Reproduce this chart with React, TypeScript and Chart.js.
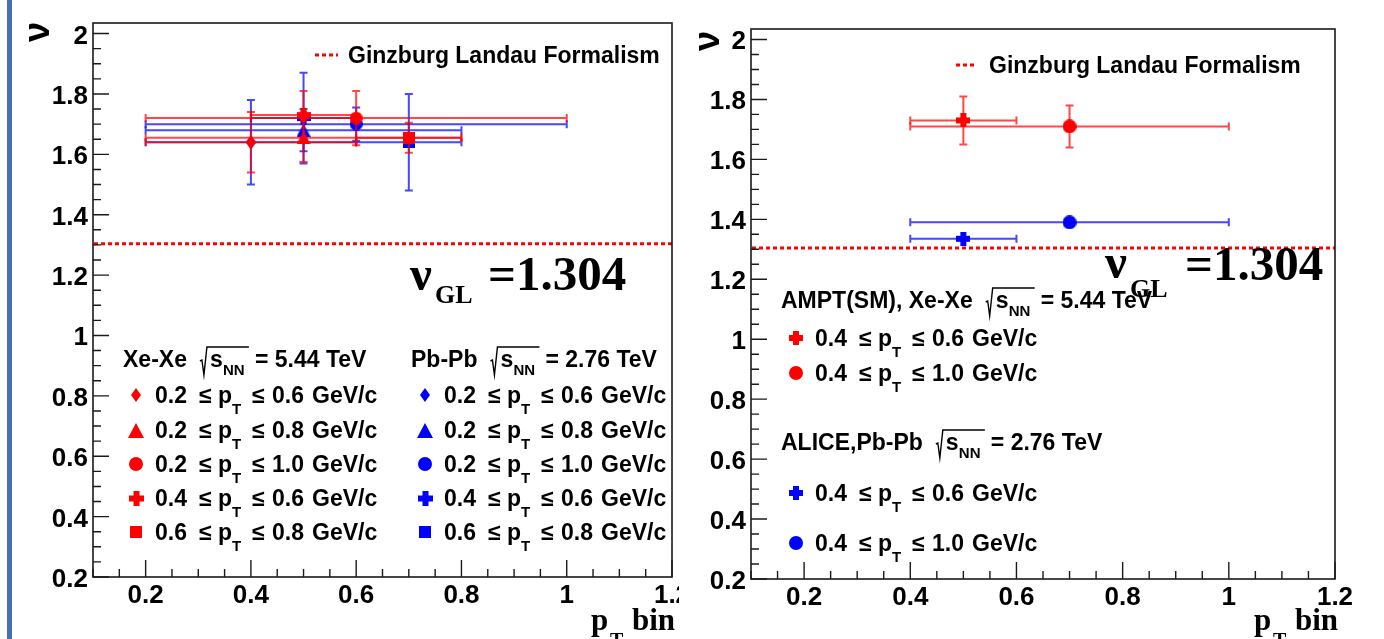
import React, { useEffect, useRef } from 'react';
import { Chart, registerables } from 'chart.js';

Chart.register(...registerables);

// ---------------- data ----------------
const X_RANGE = [0.1, 1.2];
const Y_RANGE = [0.2, 2.035];
const X_TICKS = [0.2, 0.4, 0.6, 0.8, 1.0, 1.2];
const X_TICK_LABELS = ['0.2', '0.4', '0.6', '0.8', '1', '1.2'];
const Y_TICKS = [0.2, 0.4, 0.6, 0.8, 1.0, 1.2, 1.4, 1.6, 1.8, 2.0];
const Y_TICK_LABELS = ['0.2', '0.4', '0.6', '0.8', '1', '1.2', '1.4', '1.6', '1.8', '2'];
const NU_GL = 1.304;
const GL_LEGEND = 'Ginzburg Landau Formalism';
const Y_TITLE = 'ν';
const X_TITLE_MAIN = 'p';
const X_TITLE_SUB = 'T';
const X_TITLE_TAIL = 'bin';

// left panel
const XE_TITLE = 'Xe-Xe';
const XE_ENERGY = '5.44';
const PB_TITLE = 'Pb-Pb';
const PB_ENERGY = '2.76';
const leftBinLo = [0.2, 0.2, 0.2, 0.4, 0.6];
const leftBinHi = [0.6, 0.8, 1.0, 0.6, 0.8];
const leftX = [0.4, 0.5, 0.6, 0.5, 0.7];
const xeNu = [1.64, 1.655, 1.72, 1.73, 1.655];
const xeNuErr = [0.10, 0.08, 0.09, 0.08, 0.05];
const pbNu = [1.64, 1.68, 1.70, 1.72, 1.64];
const pbNuErr = [0.14, 0.07, 0.055, 0.15, 0.16];

// right panel
const AMPT_TITLE = 'AMPT(SM), Xe-Xe';
const AMPT_ENERGY = '5.44';
const ALICE_TITLE = 'ALICE,Pb-Pb';
const ALICE_ENERGY = '2.76';
const rightBinLo = [0.4, 0.4];
const rightBinHi = [0.6, 1.0];
const rightX = [0.5, 0.7];
const amptNu = [1.73, 1.71];
const amptNuErr = [0.08, 0.07];
const aliceNu = [1.335, 1.39];
const aliceNuErr = [0, 0];

// ---------------- styles ----------------
const RED = '#ff0000';
const BLUE = '#0000ff';
const RED_LINE = 'rgba(255,0,0,0.72)';
const BLUE_LINE = 'rgba(0,0,255,0.72)';
const SANS = '"Liberation Sans", Arial, Helvetica, sans-serif';
const SERIF = '"Liberation Serif", "Times New Roman", Times, serif';
const leftShapes = ['diamond', 'triangle', 'circle', 'cross', 'square'];
const rightShapes = ['cross', 'circle'];
const SIZES: Record<string, [number, number]> = {
  diamond: [10, 14],
  triangle: [14, 13],
  circle: [13, 13],
  cross: [14, 14],
  square: [12, 12],
};
const RIGHT_SIZES: Record<string, [number, number]> = { cross: [14, 14], circle: [14, 14] };

function makeMarker(shape: string, color: string, w: number, h: number): HTMLCanvasElement {
  const c = document.createElement('canvas');
  c.width = w;
  c.height = h;
  const g = c.getContext('2d')!;
  g.fillStyle = color;
  g.beginPath();
  if (shape === 'circle') {
    g.ellipse(w / 2, h / 2, w / 2, h / 2, 0, 0, Math.PI * 2);
    g.fill();
  } else if (shape === 'square') {
    g.fillRect(0, 0, w, h);
  } else if (shape === 'triangle') {
    g.moveTo(w / 2, 0);
    g.lineTo(w, h);
    g.lineTo(0, h);
    g.closePath();
    g.fill();
  } else if (shape === 'diamond') {
    g.moveTo(w / 2, 0);
    g.lineTo(w, h / 2);
    g.lineTo(w / 2, h);
    g.lineTo(0, h / 2);
    g.closePath();
    g.fill();
  } else if (shape === 'cross') {
    const t = Math.round(w * 0.4);
    g.fillRect((w - t) / 2, 0, t, h);
    g.fillRect(0, (h - t) / 2, w, t);
  }
  return c;
}

function buildSeries(
  xs: number[], ys: number[], errs: number[], lo: number[], hi: number[],
  markers: HTMLCanvasElement[], lineColor: string,
) {
  return xs.map((x, i) => ({
    data: [{ x, y: ys[i] }],
    pointStyle: markers[i],
    pointRadius: 6,
    showLine: false,
    err: { lo: lo[i], hi: hi[i], dy: errs[i] },
    lineColor,
  }));
}

// ---------------- drawing helpers ----------------
function txt(ctx: CanvasRenderingContext2D, s: string, x: number, y: number, size: number,
  opt: { serif?: boolean; align?: CanvasTextAlign; color?: string } = {}) {
  ctx.font = `bold ${size}px ${opt.serif ? SERIF : SANS}`;
  ctx.textAlign = opt.align || 'left';
  ctx.textBaseline = 'alphabetic';
  ctx.fillStyle = opt.color || '#000';
  ctx.fillText(s, x, y);
}

function drawSqrtSNN(ctx: CanvasRenderingContext2D, x: number, base: number) {
  ctx.save();
  ctx.strokeStyle = '#000';
  ctx.lineWidth = 1.4;
  ctx.beginPath();
  ctx.moveTo(x, base - 6);
  ctx.lineTo(x + 2, base - 7);
  ctx.lineTo(x + 4, base + 8);
  ctx.lineTo(x + 7, base - 20);
  ctx.lineTo(x + 49, base - 20);
  ctx.stroke();
  ctx.restore();
  txt(ctx, 's', x + 10, base, 23);
  txt(ctx, 'NN', x + 23, base + 8, 15);
}

function drawHeader(ctx: CanvasRenderingContext2D, x: number, base: number, title: string, energy: string) {
  txt(ctx, title, x, base, 23);
  const w = ctx.measureText(title).width;
  const r = x + w + 13;
  drawSqrtSNN(ctx, r, base);
  txt(ctx, '= ' + energy + ' TeV', r + 55, base, 23);
}

function drawRange(ctx: CanvasRenderingContext2D, x: number, base: number, lo: number, hi: number) {
  txt(ctx, lo.toFixed(1), x, base, 23);
  txt(ctx, '≤', x + 44, base, 23);
  txt(ctx, 'p', x + 63, base, 23);
  txt(ctx, 'T', x + 77, base + 11, 15);
  txt(ctx, '≤', x + 97, base, 23);
  txt(ctx, hi.toFixed(1), x + 117, base, 23);
  txt(ctx, 'GeV/c', x + 157, base, 23);
}

function drawMarkerAt(ctx: CanvasRenderingContext2D, m: HTMLCanvasElement, x: number, y: number) {
  ctx.drawImage(m, Math.round(x - m.width / 2), Math.round(y - m.height / 2));
}

function drawGLLegend(ctx: CanvasRenderingContext2D, x0: number, x1: number, ly: number, tx: number, tb: number) {
  ctx.save();
  ctx.strokeStyle = RED;
  ctx.lineWidth = 3;
  ctx.setLineDash([4, 3]);
  ctx.beginPath();
  ctx.moveTo(x0, ly);
  ctx.lineTo(x1, ly);
  ctx.stroke();
  ctx.restore();
  txt(ctx, GL_LEGEND, tx, tb, 23);
}

function drawNuGL(ctx: CanvasRenderingContext2D, nx: number, nb: number, gx: number, gb: number, vx: number, vb: number) {
  txt(ctx, 'ν', nx, nb, 49, { serif: true });
  txt(ctx, 'GL', gx, gb, 26, { serif: true });
  txt(ctx, '=' + NU_GL.toFixed(3), vx, vb, 49, { serif: true });
}

function drawYTitle(ctx: CanvasRenderingContext2D, cx: number, cy: number) {
  ctx.save();
  ctx.translate(cx + 10, cy);
  ctx.rotate(-Math.PI / 2);
  txt(ctx, Y_TITLE, 0, 0, 36, { align: 'center' });
  ctx.restore();
}

function drawXTitle(ctx: CanvasRenderingContext2D, px: number, base: number, binX: number) {
  txt(ctx, X_TITLE_MAIN, px, base, 31, { serif: true });
  txt(ctx, X_TITLE_SUB, px + 19, base + 17, 20, { serif: true });
  txt(ctx, X_TITLE_TAIL, binX, base, 31, { serif: true });
}

function drawFrameAndAxes(chart: any) {
  const { ctx, chartArea: a, scales } = chart;
  const xs = scales.x;
  const ys = scales.y;
  ctx.save();
  ctx.strokeStyle = '#1a1a1a';
  ctx.lineWidth = 1.6;
  ctx.strokeRect(a.left, a.top, a.right - a.left, a.bottom - a.top);
  ctx.lineWidth = 1.4;
  ctx.beginPath();
  for (let i = 4; i * 0.05 <= Y_RANGE[1] + 1e-9; i++) {
    const py = ys.getPixelForValue(i * 0.05);
    const len = i % 4 === 0 ? 16 : 8;
    ctx.moveTo(a.left, py);
    ctx.lineTo(a.left + len, py);
  }
  for (let i = 2; i * 0.05 <= X_RANGE[1] + 1e-9; i++) {
    const px = xs.getPixelForValue(i * 0.05);
    const len = i % 4 === 0 ? 17 : 8;
    ctx.moveTo(px, a.bottom);
    ctx.lineTo(px, a.bottom - len);
  }
  ctx.stroke();
  ctx.restore();
  Y_TICKS.forEach((v, i) => txt(ctx, Y_TICK_LABELS[i], a.left - 5, ys.getPixelForValue(v) + 10, 26, { align: 'right' }));
  X_TICKS.forEach((v, i) => txt(ctx, X_TICK_LABELS[i], xs.getPixelForValue(v), a.bottom + 26, 26, { align: 'center' }));
}

function makeChart(canvas: HTMLCanvasElement, datasets: any[], padding: any, annotate: (ctx: CanvasRenderingContext2D) => void) {
  const plugin = {
    id: 'rootStyle',
    beforeDatasetsDraw(chart: any) {
      const { ctx, chartArea: a, scales } = chart;
      const py = scales.y.getPixelForValue(NU_GL);
      ctx.save();
      ctx.strokeStyle = RED;
      ctx.lineWidth = 3;
      ctx.setLineDash([4, 3]);
      ctx.beginPath();
      ctx.moveTo(a.left + 1, py);
      ctx.lineTo(a.right, py);
      ctx.stroke();
      ctx.restore();
    },
    beforeDatasetDraw(chart: any, args: any) {
      const ds: any = chart.data.datasets[args.index];
      if (!ds.err) return;
      const { ctx, scales } = chart;
      const xs = scales.x;
      const ys = scales.y;
      const p = ds.data[0];
      const e = ds.err;
      const px = xs.getPixelForValue(p.x);
      const py = ys.getPixelForValue(p.y);
      const xl = xs.getPixelForValue(e.lo);
      const xh = xs.getPixelForValue(e.hi);
      ctx.save();
      ctx.strokeStyle = ds.lineColor;
      ctx.lineWidth = 2;
      ctx.beginPath();
      ctx.moveTo(xl, py);
      ctx.lineTo(xh, py);
      ctx.moveTo(xl, py - 4);
      ctx.lineTo(xl, py + 4);
      ctx.moveTo(xh, py - 4);
      ctx.lineTo(xh, py + 4);
      if (e.dy > 0) {
        const yt = ys.getPixelForValue(p.y + e.dy);
        const yb = ys.getPixelForValue(p.y - e.dy);
        ctx.moveTo(px, yt);
        ctx.lineTo(px, yb);
        ctx.moveTo(px - 4, yt);
        ctx.lineTo(px + 4, yt);
        ctx.moveTo(px - 4, yb);
        ctx.lineTo(px + 4, yb);
      }
      ctx.stroke();
      ctx.restore();
    },
    afterDraw(chart: any) {
      drawFrameAndAxes(chart);
      annotate(chart.ctx);
    },
  };
  return new Chart(canvas, {
    type: 'scatter',
    data: { datasets },
    options: {
      animation: false,
      responsive: false,
      events: [],
      layout: { padding },
      plugins: { legend: { display: false }, tooltip: { enabled: false } },
      scales: {
        x: { type: 'linear', min: X_RANGE[0], max: X_RANGE[1], display: false },
        y: { type: 'linear', min: Y_RANGE[0], max: Y_RANGE[1], display: false },
      },
    } as any,
    plugins: [plugin as any],
  });
}

const RIGHT_OX = 679;

export default function App() {
  const leftRef = useRef<HTMLCanvasElement>(null);
  const rightRef = useRef<HTMLCanvasElement>(null);

  useEffect(() => {
    document.body.style.margin = '0';
    const redL = leftShapes.map((s) => makeMarker(s, RED, SIZES[s][0], SIZES[s][1]));
    const blueL = leftShapes.map((s) => makeMarker(s, BLUE, SIZES[s][0], SIZES[s][1]));
    const legSizes: Record<string, [number, number]> = { diamond: [10, 14], triangle: [16, 15], circle: [14, 14], cross: [15, 15], square: [12, 12] };
    const redLeg = leftShapes.map((s) => makeMarker(s, RED, legSizes[s][0], legSizes[s][1]));
    const blueLeg = leftShapes.map((s) => makeMarker(s, BLUE, legSizes[s][0], legSizes[s][1]));
    const redR = rightShapes.map((s) => makeMarker(s, RED, RIGHT_SIZES[s][0], RIGHT_SIZES[s][1]));
    const blueR = rightShapes.map((s) => makeMarker(s, BLUE, RIGHT_SIZES[s][0], RIGHT_SIZES[s][1]));

    const leftDatasets = [
      ...buildSeries(leftX, xeNu, xeNuErr, leftBinLo, leftBinHi, redL, RED_LINE),
      ...buildSeries(leftX, pbNu, pbNuErr, leftBinLo, leftBinHi, blueL, BLUE_LINE),
    ];
    const rightDatasets = [
      ...buildSeries(rightX, amptNu, amptNuErr, rightBinLo, rightBinHi, redR, RED_LINE),
      ...buildSeries(rightX, aliceNu, aliceNuErr, rightBinLo, rightBinHi, blueR, BLUE_LINE),
    ];

    const rowsY = [395, 430, 464, 498, 532];
    const left = makeChart(leftRef.current!, leftDatasets, { left: 93, right: 4, top: 23, bottom: 62 }, (ctx) => {
      drawGLLegend(ctx, 315, 338, 55, 348, 63);
      drawNuGL(ctx, 410, 290, 435, 303, 488, 290);
      drawYTitle(ctx, 39, 32);
      drawXTitle(ctx, 591, 630, 632);
      drawHeader(ctx, 123, 367, XE_TITLE, XE_ENERGY);
      drawHeader(ctx, 411, 367, PB_TITLE, PB_ENERGY);
      rowsY.forEach((y, i) => {
        drawMarkerAt(ctx, redLeg[i], 136, y);
        drawRange(ctx, 155, y + 8, leftBinLo[i], leftBinHi[i]);
        drawMarkerAt(ctx, blueLeg[i], 425, y);
        drawRange(ctx, 444, y + 8, leftBinLo[i], leftBinHi[i]);
      });
    });

    const o = RIGHT_OX;
    const right = makeChart(rightRef.current!, rightDatasets, { left: 72, right: 49, top: 29, bottom: 60 }, (ctx) => {
      drawGLLegend(ctx, 956 - o, 977 - o, 65, 989 - o, 73);
      drawNuGL(ctx, 1105 - o, 278, 1130 - o, 297, 1185 - o, 280);
      drawYTitle(ctx, 709 - o, 41);
      drawXTitle(ctx, 1254 - o, 630, 1295 - o);
      drawHeader(ctx, 781 - o, 308, AMPT_TITLE, AMPT_ENERGY);
      [338, 373].forEach((y, i) => {
        drawMarkerAt(ctx, redR[i], 796 - o, y);
        drawRange(ctx, 815 - o, y + 8, rightBinLo[i], rightBinHi[i]);
      });
      drawHeader(ctx, 781 - o, 450, ALICE_TITLE, ALICE_ENERGY);
      [493, 543].forEach((y, i) => {
        drawMarkerAt(ctx, blueR[i], 796 - o, y);
        drawRange(ctx, 815 - o, y + 8, rightBinLo[i], rightBinHi[i]);
      });
    });

    return () => {
      left.destroy();
      right.destroy();
    };
  }, []);

  return (
    <div style={{ position: 'fixed', left: 0, top: 0, width: 1384, height: 639, background: '#fff', overflow: 'hidden' }}>
      <div style={{ position: 'absolute', left: 7, top: 0, width: 5, height: 639, background: '#4472b4' }} />
      <canvas ref={leftRef} width={679} height={639} style={{ position: 'absolute', left: 0, top: 0, width: 679, height: 639 }} />
      <canvas ref={rightRef} width={705} height={639} style={{ position: 'absolute', left: RIGHT_OX, top: 0, width: 705, height: 639 }} />
    </div>
  );
}
